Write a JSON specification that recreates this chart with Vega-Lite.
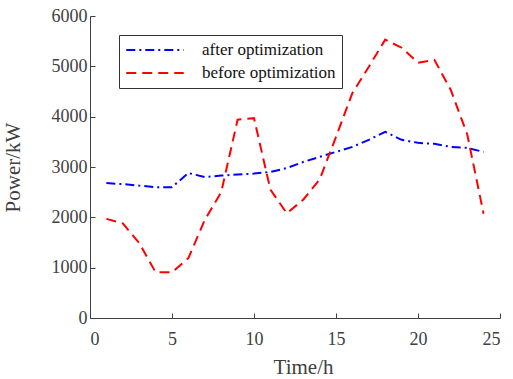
{
  "$schema": "https://vega.github.io/schema/vega-lite/v6.json",
  "autosize": "none",
  "width": 410,
  "height": 302,
  "padding": {"left": 90, "top": 16, "right": 13, "bottom": 61},
  "background": "white",
  "config": {
    "view": {"stroke": null},
    "font": "Liberation Serif",
    "axis": {
      "grid": false,
      "labelFont": "Liberation Serif",
      "labelFontSize": 18,
      "labelColor": "#404040",
      "titleFont": "Liberation Serif",
      "titleFontSize": 21,
      "titleFontWeight": "normal",
      "titleColor": "#404040",
      "domainColor": "#404040",
      "tickColor": "#404040",
      "tickSize": -5
    }
  },
  "data": {
    "values": [
      {"t": 1, "series": "after optimization", "p": 2680},
      {"t": 2, "series": "after optimization", "p": 2660},
      {"t": 3, "series": "after optimization", "p": 2630},
      {"t": 4, "series": "after optimization", "p": 2600},
      {"t": 5, "series": "after optimization", "p": 2600},
      {"t": 6, "series": "after optimization", "p": 2880},
      {"t": 7, "series": "after optimization", "p": 2800},
      {"t": 8, "series": "after optimization", "p": 2830},
      {"t": 9, "series": "after optimization", "p": 2850},
      {"t": 10, "series": "after optimization", "p": 2870},
      {"t": 11, "series": "after optimization", "p": 2900},
      {"t": 12, "series": "after optimization", "p": 2980},
      {"t": 13, "series": "after optimization", "p": 3100},
      {"t": 14, "series": "after optimization", "p": 3200},
      {"t": 15, "series": "after optimization", "p": 3300},
      {"t": 16, "series": "after optimization", "p": 3400},
      {"t": 17, "series": "after optimization", "p": 3540},
      {"t": 18, "series": "after optimization", "p": 3700},
      {"t": 19, "series": "after optimization", "p": 3540},
      {"t": 20, "series": "after optimization", "p": 3480},
      {"t": 21, "series": "after optimization", "p": 3460},
      {"t": 22, "series": "after optimization", "p": 3400},
      {"t": 23, "series": "after optimization", "p": 3380},
      {"t": 24, "series": "after optimization", "p": 3300},
      {"t": 1, "series": "before optimization", "p": 1970},
      {"t": 2, "series": "before optimization", "p": 1880},
      {"t": 3, "series": "before optimization", "p": 1490},
      {"t": 4, "series": "before optimization", "p": 910},
      {"t": 5, "series": "before optimization", "p": 910},
      {"t": 6, "series": "before optimization", "p": 1190},
      {"t": 7, "series": "before optimization", "p": 1950},
      {"t": 8, "series": "before optimization", "p": 2500},
      {"t": 9, "series": "before optimization", "p": 3940},
      {"t": 10, "series": "before optimization", "p": 3970},
      {"t": 11, "series": "before optimization", "p": 2550},
      {"t": 12, "series": "before optimization", "p": 2080},
      {"t": 13, "series": "before optimization", "p": 2350},
      {"t": 14, "series": "before optimization", "p": 2750},
      {"t": 15, "series": "before optimization", "p": 3600},
      {"t": 16, "series": "before optimization", "p": 4470},
      {"t": 17, "series": "before optimization", "p": 4990},
      {"t": 18, "series": "before optimization", "p": 5530},
      {"t": 19, "series": "before optimization", "p": 5370},
      {"t": 20, "series": "before optimization", "p": 5070},
      {"t": 21, "series": "before optimization", "p": 5130},
      {"t": 22, "series": "before optimization", "p": 4530},
      {"t": 23, "series": "before optimization", "p": 3650},
      {"t": 24, "series": "before optimization", "p": 2070}
    ]
  },
  "mark": {"type": "line", "strokeWidth": 2},
  "encoding": {
    "x": {
      "field": "t", "type": "quantitative",
      "scale": {"domain": [0, 25], "nice": false},
      "axis": {"title": "Time/h", "values": [0, 5, 10, 15, 20, 25], "labelPadding": 17, "titlePadding": 8, "titleX": 213}
    },
    "y": {
      "field": "p", "type": "quantitative",
      "scale": {"domain": [0, 6000], "nice": false},
      "axis": {"title": "Power/kW", "values": [0, 1000, 2000, 3000, 4000, 5000, 6000], "format": "d", "labelPadding": 8, "titlePadding": 28}
    },
    "color": {
      "field": "series", "type": "nominal",
      "scale": {"domain": ["after optimization", "before optimization"], "range": ["#0000ff", "#ff0000"]},
      "legend": {
        "title": null,
        "orient": "none",
        "legendX": 29,
        "legendY": 19,
        "strokeColor": "#333333",
        "fillColor": "white",
        "padding": 6,
        "labelFont": "Liberation Serif",
        "labelFontSize": 17,
        "labelColor": "#111111",
        "labelOffset": 17,
        "symbolType": "stroke",
        "symbolSize": 3300,
        "symbolStrokeWidth": 2,
        "clipHeight": 18,
        "rowPadding": 5
      }
    },
    "strokeDash": {
      "field": "series", "type": "nominal",
      "scale": {"domain": ["after optimization", "before optimization"], "range": [[9, 4, 2, 4], [10, 6]]},
      "legend": null
    }
  }
}
